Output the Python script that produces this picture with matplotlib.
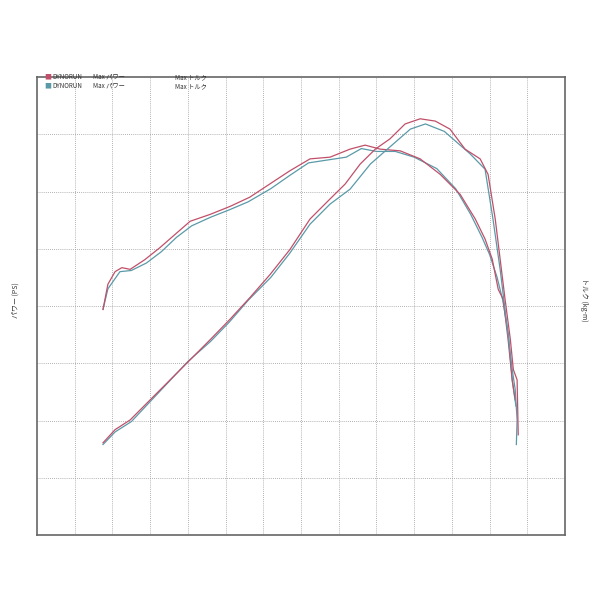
import matplotlib
matplotlib.use("Agg")
import matplotlib.pyplot as plt
import numpy as np

plt.rcParams['font.family'] = ['Noto Sans CJK JP', 'DejaVu Sans']

# data in grid units (x: 0..14, y: 0..8)
pw_red_x = [1.75,1.88,2.07,2.25,2.47,2.86,3.26,3.66,4.06,4.59,5.12,5.64,6.17,6.7,7.24,7.77,8.3,8.7,9.1,9.63,10.16,10.69,11.22,11.62,11.88,12.07,12.23,12.36,12.49,12.6,12.68]
pw_red_y = [3.94,4.38,4.6,4.67,4.64,4.81,5.02,5.25,5.48,5.6,5.74,5.9,6.13,6.36,6.57,6.6,6.74,6.81,6.74,6.71,6.57,6.3,5.95,5.52,5.17,4.82,4.29,4.12,3.42,2.71,2.36]
pw_blu_x = [1.75,1.88,2.2,2.5,2.9,3.3,3.7,4.1,4.6,5.1,5.6,6.2,6.7,7.2,7.7,8.2,8.6,9.0,9.5,10.0,10.6,11.1,11.5,11.8,12.0,12.2,12.35,12.5,12.6,12.7]
pw_blu_y = [3.94,4.3,4.6,4.62,4.75,4.95,5.2,5.4,5.55,5.68,5.82,6.05,6.28,6.5,6.55,6.6,6.75,6.7,6.7,6.6,6.4,6.05,5.6,5.2,4.9,4.5,4.1,3.5,2.7,2.25]
tq_red_x = [1.75,2.07,2.47,3.0,3.53,4.06,4.59,5.12,5.65,6.18,6.71,7.24,7.77,8.17,8.57,8.97,9.36,9.76,10.16,10.56,10.95,11.35,11.75,11.96,12.15,12.28,12.41,12.55,12.63,12.73,12.76]
tq_red_y = [1.61,1.84,2.01,2.36,2.71,3.06,3.41,3.77,4.15,4.55,4.99,5.52,5.87,6.13,6.48,6.74,6.92,7.18,7.27,7.23,7.09,6.74,6.57,6.3,5.52,4.82,4.12,3.42,2.89,2.71,1.75]
tq_blu_x = [1.75,2.07,2.5,3.0,3.5,4.0,4.6,5.1,5.6,6.2,6.7,7.24,7.77,8.3,8.84,9.36,9.9,10.3,10.8,11.48,11.88,12.09,12.28,12.44,12.6,12.68,12.73,12.71]
tq_blu_y = [1.58,1.8,1.98,2.33,2.68,3.03,3.38,3.72,4.1,4.5,4.92,5.43,5.78,6.04,6.48,6.78,7.09,7.18,7.05,6.66,6.39,5.52,4.64,3.77,2.89,2.54,2.01,1.58]

fig = plt.figure(figsize=(6, 6), dpi=100)
ax = fig.add_axes([37/600, 65/600, 528/600, 458/600])
ax.set_xlim(0, 14)
ax.set_ylim(0, 8)
for v in range(1, 14):
    ax.axvline(v, color='#999999', lw=0.6, ls=(0, (1, 1.5)))
for h in range(1, 8):
    ax.axhline(h, color='#999999', lw=0.6, ls=(0, (1, 1.5)))
ax.set_xticks([]); ax.set_yticks([])
for s in ax.spines.values():
    s.set_color('#666666'); s.set_linewidth(1.2)

red = '#c0506a'; blue = '#5a9aa8'
ax.plot(pw_blu_x, pw_blu_y, color=blue, lw=0.9)
ax.plot(pw_red_x, pw_red_y, color=red, lw=0.9)
ax.plot(tq_blu_x, tq_blu_y, color=blue, lw=0.9)
ax.plot(tq_red_x, tq_red_y, color=red, lw=0.9)

# legend
fig.text(44/600, 1-77/600, '■', color=red, fontsize=5, va='center')
fig.text(44/600, 1-86/600, '■', color=blue, fontsize=5, va='center')
for yy in (77, 86):
    fig.text(52/600, 1-yy/600, 'DYNORUN', fontsize=4.5, va='center', color='#333333')
    fig.text(93/600, 1-yy/600, 'Max パワー', fontsize=4.5, va='center', color='#333333')
    fig.text(175/600, 1-yy/600, 'Max トルク', fontsize=4.5, va='center', color='#333333')

fig.text(16/600, 0.5, 'パワー (PS)', rotation=90, fontsize=5, va='center', ha='center', color='#333333')
fig.text(584/600, 0.5, 'トルク (kg-m)', rotation=-90, fontsize=5, va='center', ha='center', color='#333333')

fig.savefig('out.png', dpi=100)
